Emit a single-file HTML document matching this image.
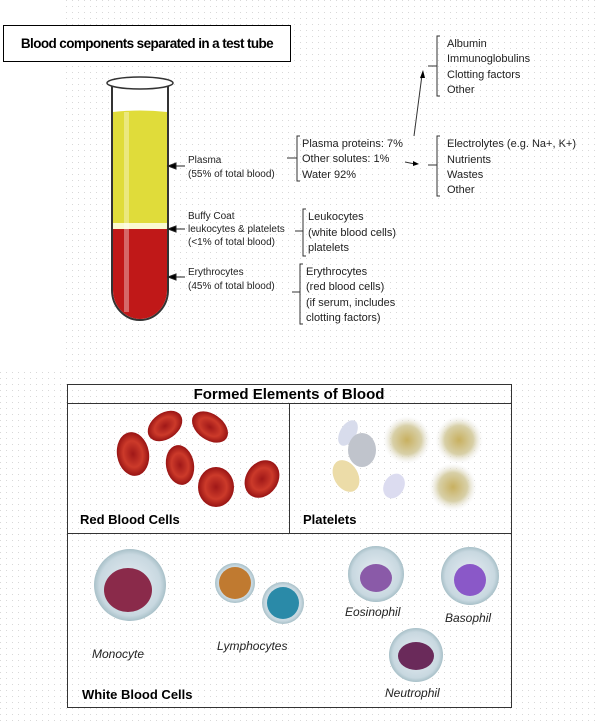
<!DOCTYPE html>
<html><head><style>
html,body{margin:0;padding:0;background:#fff}
svg{display:block}
text{font-family:"Liberation Sans",sans-serif}
</style></head><body>
<svg width="600" height="726" viewBox="0 0 600 726" xmlns="http://www.w3.org/2000/svg">
<defs>
<pattern id="dots" width="6" height="6" patternUnits="userSpaceOnUse"><rect x="0" y="0" width="1" height="1" fill="#d8d8d8"/></pattern>
<radialGradient id="rbc" cx="0.5" cy="0.5" r="0.5"><stop offset="0" stop-color="#a01818"/><stop offset="0.6" stop-color="#cc3a2a"/><stop offset="1" stop-color="#981414"/></radialGradient>
<radialGradient id="plt" cx="0.5" cy="0.5" r="0.5"><stop offset="0" stop-color="#c8b060"/><stop offset="0.6" stop-color="#d8d0a8"/><stop offset="1" stop-color="#eeeeee" stop-opacity="0"/></radialGradient>
<radialGradient id="wbc" cx="0.5" cy="0.5" r="0.5"><stop offset="0" stop-color="#e8eef4"/><stop offset="0.85" stop-color="#c8d8e0"/><stop offset="1" stop-color="#a8c0c8"/></radialGradient>
</defs>
<rect x="65" y="0" width="535" height="370" fill="url(#dots)"/>
<rect x="0" y="370" width="600" height="356" fill="url(#dots)"/>
<rect x="3.5" y="25.5" width="287" height="36" fill="#fff" stroke="#000"/>
<text x="147" y="48" font-size="13.5" font-weight="bold" text-anchor="middle" letter-spacing="-0.6">Blood components separated in a test tube</text>
<path d="M112 86 V290 A28 30 0 0 0 168 290 V86" fill="#fff" stroke="#333" stroke-width="2"/>
<path d="M113 112 Q140 109 167 112 V223 H113Z" fill="#e0dc3a"/>
<rect x="113" y="223" width="54" height="6" fill="#fafad0"/>
<path d="M113 229 H167 V290 A27 29 0 0 1 113 290Z" fill="#c01818"/>
<rect x="124" y="112" width="5" height="200" fill="#fff" opacity="0.35"/>
<ellipse cx="140" cy="83" rx="33" ry="6" fill="#fff" stroke="#333" stroke-width="1.5"/>
<g font-size="10" fill="#222">
<text x="188" y="163">Plasma</text><text x="188" y="177">(55% of total blood)</text>
<text x="188" y="219">Buffy Coat</text><text x="188" y="232">leukocytes &amp; platelets</text><text x="188" y="245">(&lt;1% of total blood)</text>
<text x="188" y="275">Erythrocytes</text><text x="188" y="289">(45% of total blood)</text>
</g>
<g stroke="#222" stroke-width="1" fill="#000">
<line x1="175" y1="166" x2="185" y2="166"/><path d="M168 166 L176 163 L176 169Z"/>
<line x1="175" y1="229" x2="185" y2="229"/><path d="M168 229 L176 226 L176 232Z"/>
<line x1="175" y1="277" x2="185" y2="277"/><path d="M168 277 L176 274 L176 280Z"/>
</g>
<g fill="none" stroke="#333" stroke-width="1">
<path d="M300 136 H297 V181 H300 M297 158 H287"/>
<path d="M440 36 H437 V96 H440 M437 66 H428"/>
<path d="M440 136 H437 V196 H440 M437 165 H428"/>
<path d="M306 209 H303 V256 H306 M303 231 H295"/>
<path d="M303 264 H300 V324 H303 M300 292 H292"/>
<line x1="405" y1="162" x2="415" y2="164"/>
<line x1="414" y1="136" x2="422" y2="75"/>
</g>
<path d="M419 164 L413 161 L413 166Z" fill="#000"/>
<path d="M423 70 L420 78 L425 78Z" fill="#000"/>
<g font-size="11" fill="#222">
<text x="302" y="147">Plasma proteins:  7%</text><text x="302" y="162">Other solutes: 1%</text><text x="302" y="178">Water 92%</text>
<text x="447" y="47">Albumin</text><text x="447" y="62">Immunoglobulins</text><text x="447" y="78">Clotting factors</text><text x="447" y="93">Other</text>
<text x="447" y="147">Electrolytes (e.g. Na+, K+)</text><text x="447" y="163">Nutrients</text><text x="447" y="178">Wastes</text><text x="447" y="193">Other</text>
<text x="308" y="220">Leukocytes</text><text x="308" y="236"> (white blood cells)</text><text x="308" y="251">platelets</text>
<text x="306" y="275">Erythrocytes</text><text x="306" y="290">(red blood cells)</text><text x="306" y="306">(if serum, includes</text><text x="306" y="321">clotting factors)</text>
</g>
<rect x="67.5" y="384.5" width="444" height="323" fill="none" stroke="#333"/>
<line x1="67" y1="403.5" x2="511" y2="403.5" stroke="#333"/>
<line x1="289.5" y1="403" x2="289.5" y2="533" stroke="#333"/>
<line x1="67" y1="533.5" x2="511" y2="533.5" stroke="#333"/>
<text x="289" y="399" font-size="15" font-weight="bold" text-anchor="middle">Formed Elements of Blood</text>
<g fill="url(#rbc)">
<ellipse cx="133" cy="454" rx="16" ry="22" transform="rotate(-10 133 454)"/>
<ellipse cx="165" cy="426" rx="13" ry="19" transform="rotate(55 165 426)"/>
<ellipse cx="210" cy="427" rx="13" ry="20" transform="rotate(-55 210 427)"/>
<ellipse cx="180" cy="465" rx="14" ry="20" transform="rotate(-10 180 465)"/>
<ellipse cx="216" cy="487" rx="18" ry="20"/>
<ellipse cx="262" cy="479" rx="16" ry="20" transform="rotate(35 262 479)"/>
</g>
<g font-size="13" font-weight="bold"><text x="80" y="524">Red Blood Cells</text><text x="303" y="524">Platelets</text><text x="82" y="699">White Blood Cells</text></g>
<ellipse cx="348" cy="433" rx="8" ry="14" transform="rotate(30 348 433)" fill="#d8dcec"/>
<ellipse cx="362" cy="450" rx="14" ry="17" fill="#c0c4cc"/>
<ellipse cx="346" cy="476" rx="12" ry="17" transform="rotate(-30 346 476)" fill="#ecdca8"/>
<ellipse cx="394" cy="486" rx="10" ry="13" transform="rotate(30 394 486)" fill="#dcdcf0"/>
<circle cx="407" cy="440" r="24" fill="url(#plt)"/>
<circle cx="459" cy="440" r="24" fill="url(#plt)"/>
<circle cx="453" cy="487" r="24" fill="url(#plt)"/>
<circle cx="130" cy="585" r="36" fill="url(#wbc)"/>
<ellipse cx="128" cy="590" rx="24" ry="22" fill="#8a2a4a"/>
<circle cx="235" cy="583" r="20" fill="url(#wbc)"/>
<circle cx="235" cy="583" r="16" fill="#c07a30"/>
<circle cx="283" cy="603" r="21" fill="url(#wbc)"/>
<circle cx="283" cy="603" r="16" fill="#2a8aa8"/>
<circle cx="376" cy="574" r="28" fill="url(#wbc)"/>
<ellipse cx="376" cy="578" rx="16" ry="14" fill="#8a5aa8"/>
<circle cx="470" cy="576" r="29" fill="url(#wbc)"/>
<ellipse cx="470" cy="580" rx="16" ry="16" fill="#8a58c8"/>
<circle cx="416" cy="655" r="27" fill="url(#wbc)"/>
<ellipse cx="416" cy="656" rx="18" ry="14" fill="#6a2a5a"/>
<g font-size="12" font-style="italic" fill="#222">
<text x="92" y="658">Monocyte</text><text x="217" y="650">Lymphocytes</text>
<text x="345" y="616">Eosinophil</text><text x="445" y="622">Basophil</text><text x="385" y="697">Neutrophil</text>
</g>
</svg>
</body></html>
